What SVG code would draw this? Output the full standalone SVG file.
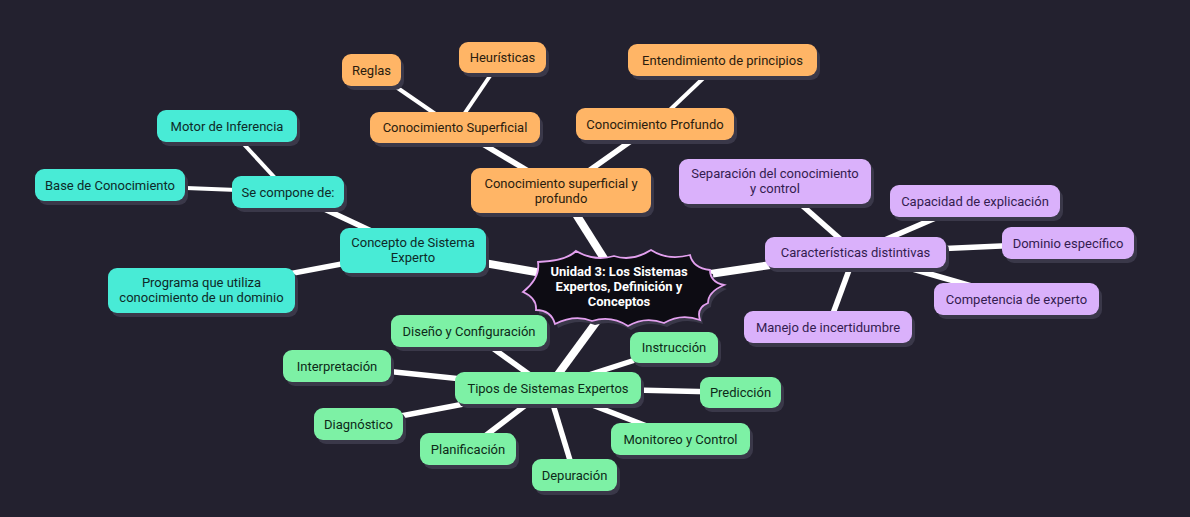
<svg xmlns="http://www.w3.org/2000/svg" width="1190" height="517" viewBox="0 0 1190 517">
<style>
.bg{fill:#23212f}
.e8{stroke:#ffffff;stroke-width:8;stroke-linecap:butt;fill:none}
.e6{stroke:#ffffff;stroke-width:5.5;fill:none}
.e4{stroke:#ffffff;stroke-width:4;fill:none}
.sh{fill:#3a3849}
.or{fill:#ffb566}
.te{fill:#48ebd6}
.pu{fill:#dab1fb}
.gr{fill:#7df1a5}
text{font-family:Roboto,"Noto Sans",sans-serif;font-size:13px;text-anchor:middle}
.to{fill:#2a1c0e}
.tt{fill:#0e2a28}
.tp{fill:#341c50}
.tg{fill:#0d2a18}
.tc{fill:#ffffff;font-weight:bold;font-size:13px}
</style>
<rect class="bg" x="0" y="0" width="1190" height="517"/>
<g id="connectors">
<line class="e8" x1="622" y1="287" x2="561" y2="190.5"/>
<line class="e8" x1="622" y1="287" x2="413" y2="250.5"/>
<line class="e8" x1="622" y1="287" x2="855.5" y2="252.5"/>
<line class="e8" x1="622" y1="287" x2="548" y2="388"/>
<line class="e6" x1="561" y1="190.5" x2="455" y2="127.5"/>
<line class="e6" x1="561" y1="190.5" x2="655" y2="124"/>
<line class="e4" x1="455" y1="127.5" x2="371.5" y2="70"/>
<line class="e4" x1="455" y1="127.5" x2="502.5" y2="57.5"/>
<line class="e4" x1="655" y1="124" x2="722.5" y2="60"/>
<line class="e6" x1="413" y1="250.5" x2="288" y2="192"/>
<line class="e6" x1="413" y1="250.5" x2="201.5" y2="290.5"/>
<line class="e4" x1="288" y1="192" x2="227" y2="126"/>
<line class="e4" x1="288" y1="192" x2="110" y2="185"/>
<line class="e6" x1="855.5" y1="252.5" x2="775" y2="181.5"/>
<line class="e6" x1="855.5" y1="252.5" x2="975" y2="201"/>
<line class="e6" x1="855.5" y1="252.5" x2="1068" y2="243"/>
<line class="e6" x1="855.5" y1="252.5" x2="1016.5" y2="299"/>
<line class="e6" x1="855.5" y1="252.5" x2="828" y2="327"/>
<line class="e6" x1="548" y1="388" x2="469" y2="331"/>
<line class="e6" x1="548" y1="388" x2="337" y2="366"/>
<line class="e6" x1="548" y1="388" x2="358.5" y2="424"/>
<line class="e6" x1="548" y1="388" x2="468" y2="449"/>
<line class="e6" x1="548" y1="388" x2="574.5" y2="475"/>
<line class="e6" x1="548" y1="388" x2="680.5" y2="439"/>
<line class="e6" x1="548" y1="388" x2="740.5" y2="392.5"/>
<line class="e6" x1="548" y1="388" x2="674" y2="347.5"/>
</g>
<g id="center">
<path fill="#3a3849" transform="translate(3,4)" d="M523,292 Q540.5,278 538,262 Q566,261 576,251 Q595,262 614,256 Q632,262 651,250 Q668,261 690,255 Q693,268 710,270 Q710,282 724,285 Q708,292 708,303 Q696,308 700,320 Q681,313 664,323 Q645,316 628,326 Q611,315 592,321 Q575,314 555,324 Q551,310 536,310 Q537,298 523,292 Z"/>
<path fill="#0d0c13" stroke="#e3a0ef" stroke-width="1.8" d="M523,292 Q540.5,278 538,262 Q566,261 576,251 Q595,262 614,256 Q632,262 651,250 Q668,261 690,255 Q693,268 710,270 Q710,282 724,285 Q708,292 708,303 Q696,308 700,320 Q681,313 664,323 Q645,316 628,326 Q611,315 592,321 Q575,314 555,324 Q551,310 536,310 Q537,298 523,292 Z"/>
<text class="tc" x="619" y="275.5">Unidad 3: Los Sistemas</text>
<text class="tc" x="619" y="290.5">Expertos, Definición y</text>
<text class="tc" x="619" y="305.5">Conceptos</text>
</g>
<g id="n-csyp"><rect class="sh" x="474" y="172" width="180" height="45" rx="9"/><rect class="or" x="471" y="168" width="180" height="45" rx="9"/><text class="to" x="561" y="187.5">Conocimiento superficial y</text><text class="to" x="561" y="202.5">profundo</text></g>
<g id="n-cs"><rect class="sh" x="373" y="116" width="170" height="31" rx="9"/><rect class="or" x="370" y="112" width="170" height="31" rx="9"/><text class="to" x="455" y="132">Conocimiento Superficial</text></g>
<g id="n-cp"><rect class="sh" x="579" y="112" width="158" height="32" rx="9"/><rect class="or" x="576" y="108" width="158" height="32" rx="9"/><text class="to" x="655" y="128.5">Conocimiento Profundo</text></g>
<g id="n-reglas"><rect class="sh" x="345" y="58" width="59" height="32" rx="9"/><rect class="or" x="342" y="54" width="59" height="32" rx="9"/><text class="to" x="371.5" y="74.5">Reglas</text></g>
<g id="n-heur"><rect class="sh" x="462" y="46" width="87" height="31" rx="9"/><rect class="or" x="459" y="42" width="87" height="31" rx="9"/><text class="to" x="502.5" y="62">Heurísticas</text></g>
<g id="n-entend"><rect class="sh" x="631" y="48" width="189" height="32" rx="9"/><rect class="or" x="628" y="44" width="189" height="32" rx="9"/><text class="to" x="722.5" y="64.5">Entendimiento de principios</text></g>
<g id="n-concepto"><rect class="sh" x="343" y="232" width="146" height="45" rx="9"/><rect class="te" x="340" y="228" width="146" height="45" rx="9"/><text class="tt" x="413" y="247">Concepto de Sistema</text><text class="tt" x="413" y="262">Experto</text></g>
<g id="n-secompone"><rect class="sh" x="235" y="180" width="112" height="32" rx="9"/><rect class="te" x="232" y="176" width="112" height="32" rx="9"/><text class="tt" x="288" y="196.5">Se compone de:</text></g>
<g id="n-motor"><rect class="sh" x="160" y="114" width="140" height="32" rx="9"/><rect class="te" x="157" y="110" width="140" height="32" rx="9"/><text class="tt" x="227" y="130.5">Motor de Inferencia</text></g>
<g id="n-base"><rect class="sh" x="38" y="173" width="150" height="32" rx="9"/><rect class="te" x="35" y="169" width="150" height="32" rx="9"/><text class="tt" x="110" y="189.5">Base de Conocimiento</text></g>
<g id="n-programa"><rect class="sh" x="111" y="272" width="187" height="45" rx="9"/><rect class="te" x="108" y="268" width="187" height="45" rx="9"/><text class="tt" x="201.5" y="287">Programa que utiliza</text><text class="tt" x="201.5" y="302">conocimiento de un dominio</text></g>
<g id="n-caract"><rect class="sh" x="768" y="241" width="181" height="31" rx="9"/><rect class="pu" x="765" y="237" width="181" height="31" rx="9"/><text class="tp" x="855.5" y="257">Características distintivas</text></g>
<g id="n-separacion"><rect class="sh" x="682" y="163" width="192" height="45" rx="9"/><rect class="pu" x="679" y="159" width="192" height="45" rx="9"/><text class="tp" x="775" y="178">Separación del conocimiento</text><text class="tp" x="775" y="193">y control</text></g>
<g id="n-capacidad"><rect class="sh" x="893" y="189" width="170" height="32" rx="9"/><rect class="pu" x="890" y="185" width="170" height="32" rx="9"/><text class="tp" x="975" y="205.5">Capacidad de explicación</text></g>
<g id="n-dominio"><rect class="sh" x="1005" y="231" width="132" height="32" rx="9"/><rect class="pu" x="1002" y="227" width="132" height="32" rx="9"/><text class="tp" x="1068" y="247.5">Dominio específico</text></g>
<g id="n-competencia"><rect class="sh" x="937" y="287" width="165" height="32" rx="9"/><rect class="pu" x="934" y="283" width="165" height="32" rx="9"/><text class="tp" x="1016.5" y="303.5">Competencia de experto</text></g>
<g id="n-manejo"><rect class="sh" x="747" y="315" width="168" height="32" rx="9"/><rect class="pu" x="744" y="311" width="168" height="32" rx="9"/><text class="tp" x="828" y="331.5">Manejo de incertidumbre</text></g>
<g id="n-tipos"><rect class="sh" x="458" y="376" width="186" height="32" rx="9"/><rect class="gr" x="455" y="372" width="186" height="32" rx="9"/><text class="tg" x="548" y="392.5">Tipos de Sistemas Expertos</text></g>
<g id="n-diseno"><rect class="sh" x="394" y="319" width="156" height="32" rx="9"/><rect class="gr" x="391" y="315" width="156" height="32" rx="9"/><text class="tg" x="469" y="335.5">Diseño y Configuración</text></g>
<g id="n-interp"><rect class="sh" x="286" y="354" width="108" height="32" rx="9"/><rect class="gr" x="283" y="350" width="108" height="32" rx="9"/><text class="tg" x="337" y="370.5">Interpretación</text></g>
<g id="n-diag"><rect class="sh" x="317" y="412" width="89" height="32" rx="9"/><rect class="gr" x="314" y="408" width="89" height="32" rx="9"/><text class="tg" x="358.5" y="428.5">Diagnóstico</text></g>
<g id="n-planif"><rect class="sh" x="423" y="437" width="96" height="32" rx="9"/><rect class="gr" x="420" y="433" width="96" height="32" rx="9"/><text class="tg" x="468" y="453.5">Planificación</text></g>
<g id="n-depur"><rect class="sh" x="535" y="463" width="85" height="32" rx="9"/><rect class="gr" x="532" y="459" width="85" height="32" rx="9"/><text class="tg" x="574.5" y="479.5">Depuración</text></g>
<g id="n-monit"><rect class="sh" x="614" y="427" width="139" height="32" rx="9"/><rect class="gr" x="611" y="423" width="139" height="32" rx="9"/><text class="tg" x="680.5" y="443.5">Monitoreo y Control</text></g>
<g id="n-pred"><rect class="sh" x="703" y="381" width="81" height="31" rx="9"/><rect class="gr" x="700" y="377" width="81" height="31" rx="9"/><text class="tg" x="740.5" y="397">Predicción</text></g>
<g id="n-instr"><rect class="sh" x="633" y="336" width="88" height="31" rx="9"/><rect class="gr" x="630" y="332" width="88" height="31" rx="9"/><text class="tg" x="674" y="352">Instrucción</text></g>
</svg>
